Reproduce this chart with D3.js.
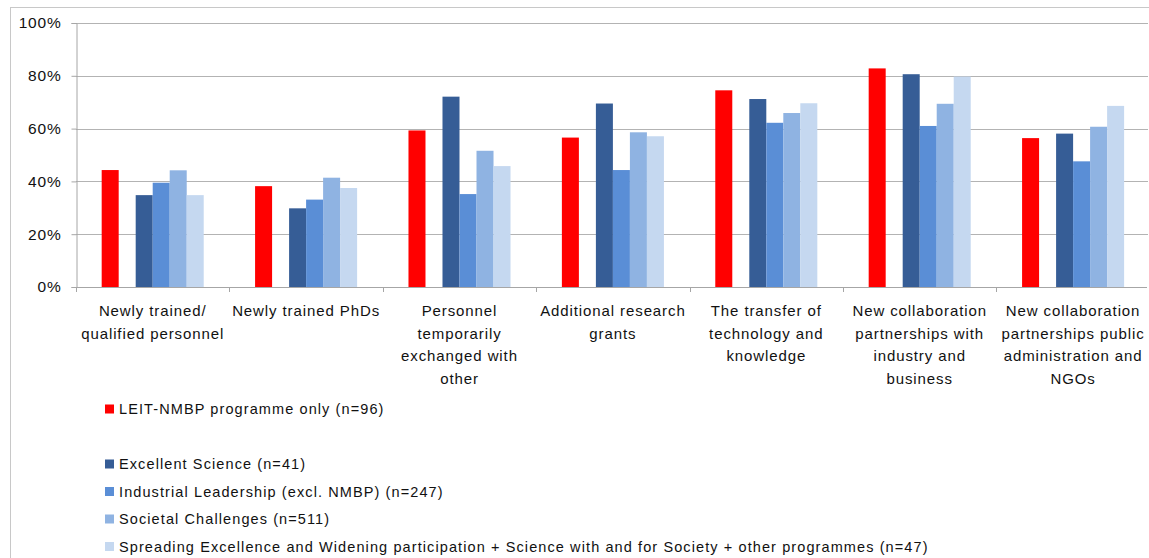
<!DOCTYPE html>
<html>
<head>
<meta charset="utf-8">
<script src="https://cdn.jsdelivr.net/npm/d3@7"></script>
<style>
  html, body { margin: 0; padding: 0; background: #fff; }
  svg text { font-family: "Liberation Sans", Arial, sans-serif; fill: #111; }
</style>
</head>
<body>
<svg id="chart" width="1149" height="558"></svg>
<script>
const categories = [
  ["Newly trained/", "qualified personnel"],
  ["Newly trained PhDs"],
  ["Personnel", "temporarily", "exchanged with", "other"],
  ["Additional research", "grants"],
  ["The transfer of", "technology and", "knowledge"],
  ["New collaboration", "partnerships with", "industry and", "business"],
  ["New collaboration", "partnerships public", "administration and", "NGOs"]
];
const seriesNames = [
  "LEIT-NMBP programme only (n=96)",
  "",
  "Excellent Science (n=41)",
  "Industrial Leadership (excl. NMBP) (n=247)",
  "Societal Challenges (n=511)",
  "Spreading Excellence and Widening participation + Science with and for Society + other programmes (n=47)"
];
const seriesColors = ["#ff0000", "none", "#365d96", "#5a8ed6", "#8fb3e2", "#c5d8f0"];
const leitValues       = [44.3, 38.2, 59.3, 56.6, 74.5, 82.8, 56.4];
const blankValues      = [null, null, null, null, null, null, null];
const excellentValues  = [34.8, 29.8, 72.1, 69.5, 71.2, 80.6, 58.1];
const industrialValues = [39.5, 33.1, 35.2, 44.3, 62.2, 61.0, 47.6];
const societalValues   = [44.2, 41.4, 51.6, 58.6, 65.9, 69.4, 60.7];
const spreadingValues  = [34.8, 37.5, 45.8, 57.1, 69.6, 79.7, 68.6];
const yTicks = [0, 20, 40, 60, 80, 100];

const seriesValues = [leitValues, blankValues, excellentValues, industrialValues, societalValues, spreadingValues];

const svg = d3.select("#chart");

// outer chart frame
svg.append("rect").attr("x", 10.5).attr("y", 7.5).attr("width", 1150).attr("height", 560)
  .attr("fill", "none").attr("stroke", "#c8c8c8").attr("stroke-width", 1);

const pLeft = 76, pTop = 23, pBottom = 287;

const x0 = d3.scaleBand().domain(d3.range(categories.length)).range([pLeft, pLeft + 153.4 * 7]).padding(0);
const x1 = d3.scaleBand().domain(d3.range(seriesNames.length)).range([0, x0.bandwidth()])
  .paddingInner(0).paddingOuter(1.51);
const y = d3.scaleLinear().domain([0, 100]).range([pBottom, pTop]);

// gridlines
svg.append("g").selectAll("line").data(yTicks.filter(d => d > 0)).join("line")
  .attr("x1", pLeft).attr("x2", 1148)
  .attr("y1", d => Math.round(y(d)) + 0.5).attr("y2", d => Math.round(y(d)) + 0.5)
  .attr("stroke", "#b3b3b3").attr("stroke-width", 1.2);

// y axis
const yAxis = d3.axisLeft(y).tickValues(yTicks).tickFormat(d => d + "%").tickSize(5).tickPadding(10);
const gy = svg.append("g").attr("transform", `translate(${pLeft + 0.5},0)`).call(yAxis);
gy.select(".domain").attr("stroke", "#a6a6a6");
gy.selectAll(".tick line").attr("stroke", "#a6a6a6");
gy.selectAll(".tick text").attr("font-size", 15.5).attr("letter-spacing", 0.8)
  .attr("font-family", "Liberation Sans, Arial, sans-serif").attr("fill", "#111");

// bars
const groups = svg.append("g").selectAll("g").data(categories).join("g")
  .attr("transform", (d, i) => `translate(${x0(i)},0)`);
groups.selectAll("rect").data((d, i) => seriesValues.map((s, j) => ({ j, v: s[i] })).filter(e => e.v !== null))
  .join("rect")
  .attr("x", d => x1(d.j)).attr("width", x1.bandwidth())
  .attr("y", d => y(d.v)).attr("height", d => y(0) - y(d.v))
  .attr("fill", d => seriesColors[d.j]);

// x axis
svg.append("line").attr("x1", pLeft).attr("x2", 1147).attr("y1", pBottom + 0.5).attr("y2", pBottom + 0.5)
  .attr("stroke", "#a6a6a6");
svg.append("g").selectAll("line").data(d3.range(categories.length + 1)).join("line")
  .attr("x1", i => Math.round(pLeft + i * x0.step()) + 0.5).attr("x2", i => Math.round(pLeft + i * x0.step()) + 0.5)
  .attr("y1", pBottom).attr("y2", pBottom + 5).attr("stroke", "#a6a6a6");

// category labels
const labels = svg.append("g").selectAll("text").data(categories).join("text")
  .attr("text-anchor", "middle").attr("font-size", 15).attr("letter-spacing", 0.9)
  .attr("x", (d, i) => x0(i) + x0.bandwidth() / 2);
labels.selectAll("tspan").data((d, i) => d.map(t => ({ t, i }))).join("tspan")
  .attr("x", d => x0(d.i) + x0.bandwidth() / 2)
  .attr("y", (d, k) => 316 + k * 22.6)
  .text(d => d.t);

// legend
const legendRows = [0, 2, 3, 4, 5];
const legendY = { 0: 409, 2: 464, 3: 491.5, 4: 519, 5: 546.5 };
const lg = svg.append("g").selectAll("g").data(legendRows).join("g")
  .attr("transform", j => `translate(105,${legendY[j]})`);
lg.append("rect").attr("x", 0).attr("y", -4.5).attr("width", 9).attr("height", 9)
  .attr("fill", j => seriesColors[j]);
lg.append("text").attr("x", 14).attr("y", 5).attr("font-size", 14.5).attr("letter-spacing", 1.1)
  .text(j => seriesNames[j]);
</script>
</body>
</html>
